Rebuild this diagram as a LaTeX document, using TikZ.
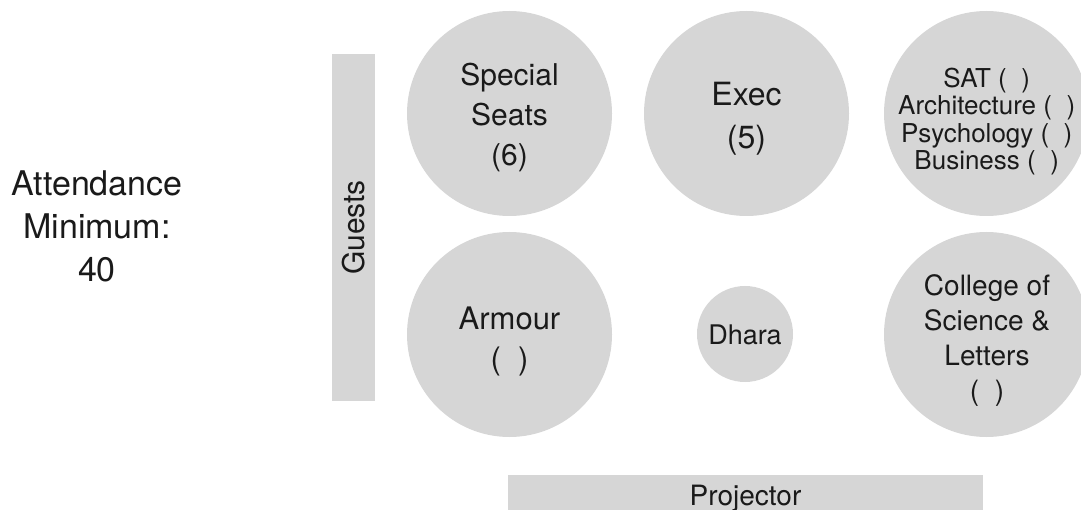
\documentclass[tikz,border=0pt]{standalone}
\usepackage{fontspec}
\setmainfont{TeX Gyre Heros}
\definecolor{seatgray}{HTML}{D6D6D6}
\definecolor{ink}{HTML}{1A1A1A}
\begin{document}
\begin{tikzpicture}[x=1pt,y=-1pt,
  txt/.style={text=ink, align=center, inner sep=0pt},
  seat/.style={circle, fill=seatgray, inner sep=0pt, minimum size=205pt},
  smallseat/.style={circle, fill=seatgray, inner sep=0pt, minimum size=96pt},
  bar/.style={rectangle, fill=seatgray, inner sep=0pt, text=ink}
]
\useasboundingbox (0,0) rectangle (1081,510);

% tables
\node[seat] (specialc) at (509.5,113.5) {};
\node[seat] (execc) at (746.5,113.5) {};
\node[seat] (satc) at (986.5,113.5) {};
\node[seat] (armourc) at (509.5,334.5) {};
\node[smallseat] (dharac) at (745,334) {};
\node[seat] (collegec) at (986.5,334.5) {};

% bars
\node[bar, rotate=90, minimum width=347pt, minimum height=43pt,
      font=\fontsize{30}{36}\selectfont] (guests) at (353.5,227.5) {Guests};
\node[bar, minimum width=475pt, minimum height=47pt,
      font=\fontsize{28}{34}\selectfont] (projector) at (745.5,498.5) {Projector};

% labels
\node[txt, font=\fontsize{34}{43}\selectfont] (attendance) at (97,226) {Attendance\\Minimum:\\40};
\node[txt, font=\fontsize{30}{40}\selectfont] (special) at (509.5,117.5) {Special\\Seats\\(6)};
\node[txt, font=\fontsize{32}{43}\selectfont] (exec) at (746.5,119) {Exec\\(5)};
\node[txt, font=\fontsize{26}{27.5}\selectfont] (sat) at (986.7,121.3) {SAT (\ \ )\\Architecture (\ \ )\\Psychology (\ \ )\\Business (\ \ )};
\node[txt, font=\fontsize{31}{40.5}\selectfont] (armour) at (509.5,341.5) {Armour\\(\ \ )};
\node[txt, font=\fontsize{27}{33}\selectfont] (dhara) at (745,334.5) {Dhara};
\node[txt, font=\fontsize{28}{35}\selectfont] (college) at (987,340.5) {College of\\Science \&\\Letters\\(\ \ )};
\end{tikzpicture}
\end{document}
